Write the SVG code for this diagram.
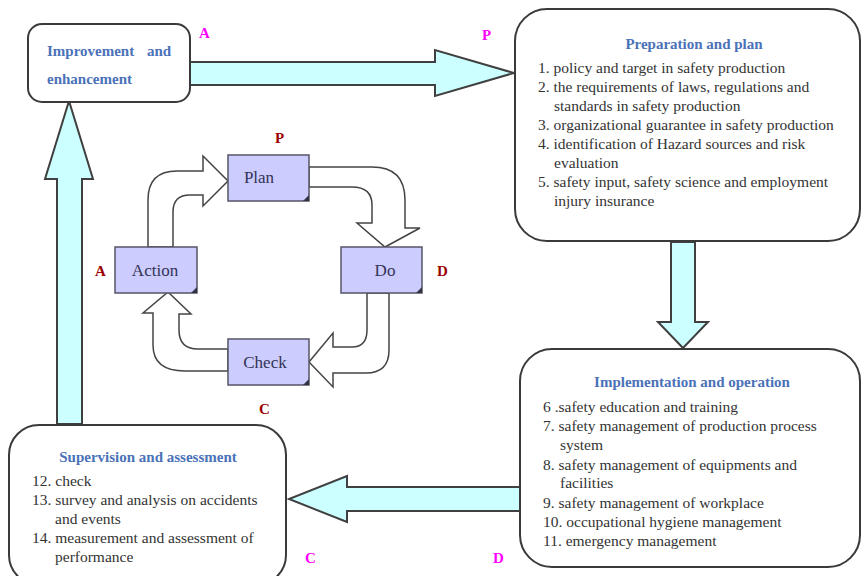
<svg xmlns="http://www.w3.org/2000/svg" width="862" height="576" viewBox="0 0 862 576">
  <style>
    .box { fill: #ffffff; stroke: #3a3a3a; stroke-width: 2; }
    .bigarrow { fill: #ccffff; stroke: #404040; stroke-width: 2; stroke-linejoin: miter; }
    .step { fill: #ccccff; stroke: #555566; stroke-width: 1.5; }
    .fold { fill: #333344; }
    .loop { fill: #ffffff; stroke: #444444; stroke-width: 1.5; stroke-linejoin: miter; }
    .title { font-family: "Liberation Serif", "Times New Roman", serif; font-weight: bold; font-size: 15px; fill: #4a72b8; }
    .item { font-family: "Liberation Serif", "Times New Roman", serif; font-size: 15.5px; fill: #333333; }
    .steplbl { font-family: "Liberation Serif", "Times New Roman", serif; font-size: 17px; fill: #333355; text-anchor: middle; }
    .phase { font-family: "Liberation Serif", "Times New Roman", serif; font-weight: bold; font-size: 15px; fill: #990000; }
    .corner { font-family: "Liberation Serif", "Times New Roman", serif; font-weight: bold; font-size: 15px; fill: #ff00ff; }
  </style>

  <!-- big connectors between the management stages -->
  <g id="connectors">
    <!-- improvement -> preparation -->
    <polygon class="bigarrow" points="190,62 435,62 435,50 514,73 435,96 435,85 190,85"/>
    <!-- preparation -> implementation -->
    <polygon class="bigarrow" points="671,242 695,242 695,322 708,322 683,348 658,322 671,322"/>
    <!-- implementation -> supervision -->
    <polygon class="bigarrow" points="520,487 347,487 347,476 289,499 347,522 347,511 520,511"/>
    <!-- supervision -> improvement -->
    <polygon class="bigarrow" points="57,424 57,179 45,179 69,101 93,179 82,179 82,424"/>

    <!-- PDCA loop arrows -->
    <path class="loop" d="M148,247 L148,200 Q148,171 177,171 L203,171 L203,156 L228,181 L203,206 L203,195 L190,195 Q173,195 173,212 L173,247 Z"/>
    <path class="loop" d="M309,167 L372,167 Q405,167 405,200 L405,228 L420,228 L385,247 L357,223 L372,223 L372,205 Q372,187 352,187 L309,187 Z"/>
    <path class="loop" d="M389,293 L389,350 Q389,373 366,373 L333,373 L333,387 L309,362 L333,333 L333,347 L352,347 Q367,347 367,330 L367,293 Z"/>
    <path class="loop" d="M228,349 L198,349 Q179,349 179,330 L179,314 L191,314 L168,292 L143,313 L153,313 L153,345 Q153,371 185,371 L228,371 Z"/>
  </g>

  <!-- stage: Improvement and enhancement -->
  <g id="improvement">
    <rect class="box" x="28" y="24" width="162" height="78" rx="14" ry="14"/>
    <text class="title" y="56"><tspan x="47">Improvement</tspan><tspan x="147">and</tspan></text>
    <text class="title" x="47" y="84">enhancement</text>
  </g>

  <!-- stage: Preparation and plan -->
  <g id="preparation">
    <rect class="box" x="515" y="9" width="345" height="232" rx="32" ry="32"/>
    <text class="title" x="694" y="49" text-anchor="middle">Preparation and plan</text>
    <text class="item" x="538" y="73">1. policy and target in safety production</text>
    <text class="item" x="538" y="92">2. the requirements of laws, regulations and</text>
    <text class="item" x="554" y="111">standards in safety production</text>
    <text class="item" x="538" y="130">3. organizational guarantee in safety production</text>
    <text class="item" x="538" y="149">4. identification of Hazard sources and risk</text>
    <text class="item" x="554" y="168">evaluation</text>
    <text class="item" x="538" y="187">5. safety input, safety science and employment</text>
    <text class="item" x="554" y="206">injury insurance</text>
  </g>

  <!-- stage: Implementation and operation -->
  <g id="implementation">
    <rect class="box" x="520" y="349" width="340" height="218" rx="32" ry="32"/>
    <text class="title" x="692" y="387" text-anchor="middle">Implementation and operation</text>
    <text class="item" x="543" y="412">6 .safety education and training</text>
    <text class="item" x="543" y="431">7. safety management of production process</text>
    <text class="item" x="560" y="450">system</text>
    <text class="item" x="543" y="470">8. safety management of equipments and</text>
    <text class="item" x="560" y="488">facilities</text>
    <text class="item" x="543" y="508">9. safety management of workplace</text>
    <text class="item" x="543" y="527">10. occupational hygiene management</text>
    <text class="item" x="543" y="546">11. emergency management</text>
  </g>

  <!-- stage: Supervision and assessment -->
  <g id="supervision">
    <rect class="box" x="9" y="425" width="277" height="160" rx="30" ry="30"/>
    <text class="title" x="148" y="462" text-anchor="middle">Supervision and assessment</text>
    <text class="item" x="32" y="486">12. check</text>
    <text class="item" x="32" y="505">13. survey and analysis on accidents</text>
    <text class="item" x="55" y="524">and events</text>
    <text class="item" x="32" y="543">14. measurement and assessment of</text>
    <text class="item" x="55" y="562">performance</text>
  </g>

  <!-- corner letters of the outer cycle -->
  <g id="outer-letters">
    <text class="corner" x="199" y="38">A</text>
    <text class="corner" x="482" y="40">P</text>
    <text class="corner" x="305" y="563">C</text>
    <text class="corner" x="493" y="563">D</text>
  </g>

  <!-- PDCA steps -->
  <g id="plan">
    <rect class="step" x="228" y="155" width="81" height="46"/>
    <polygon class="fold" points="309,195 309,201 303,201"/>
    <text class="steplbl" x="259" y="183">Plan</text>
  </g>
  <g id="do">
    <rect class="step" x="341" y="247" width="81" height="46"/>
    <polygon class="fold" points="422,287 422,293 416,293"/>
    <text class="steplbl" x="385" y="276">Do</text>
  </g>
  <g id="check">
    <rect class="step" x="228" y="339" width="81" height="46"/>
    <polygon class="fold" points="309,379 309,385 303,385"/>
    <text class="steplbl" x="265" y="368">Check</text>
  </g>
  <g id="action">
    <rect class="step" x="115" y="247" width="82" height="46"/>
    <polygon class="fold" points="197,287 197,293 191,293"/>
    <text class="steplbl" x="155" y="276">Action</text>
  </g>

  <!-- phase letters of the inner cycle -->
  <g id="inner-letters">
    <text class="phase" x="275" y="143">P</text>
    <text class="phase" x="437" y="276">D</text>
    <text class="phase" x="259" y="414">C</text>
    <text class="phase" x="95" y="276">A</text>
  </g>
</svg>
